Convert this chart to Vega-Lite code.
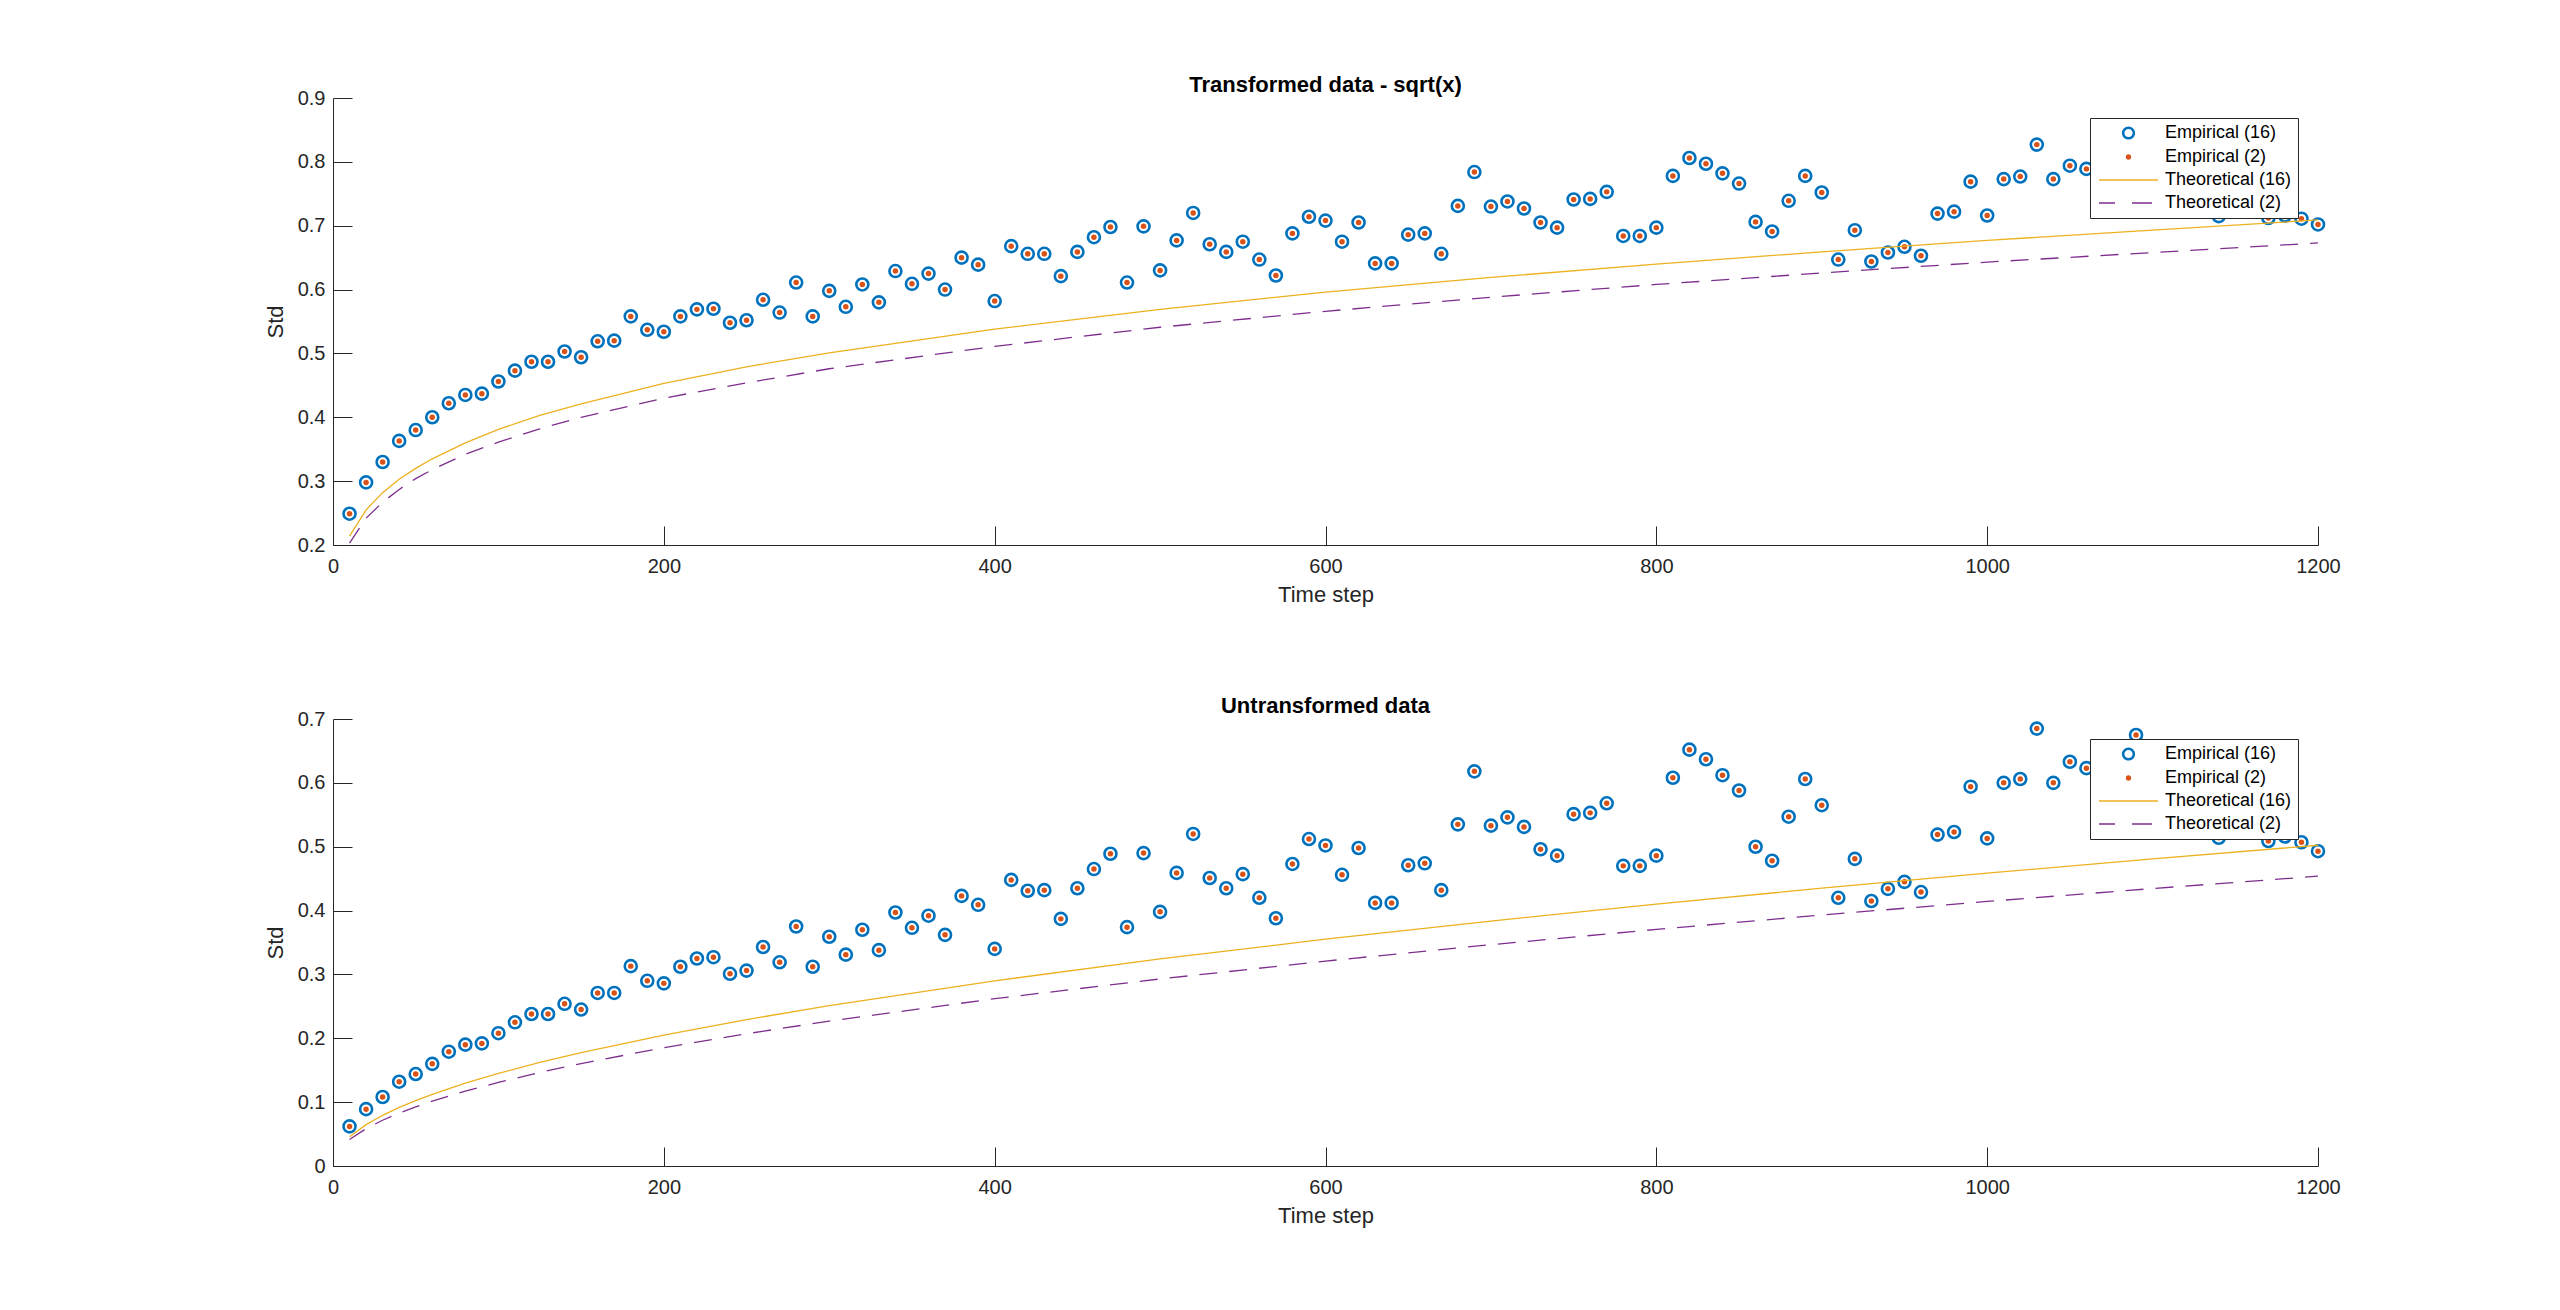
{
  "$schema": "https://vega.github.io/schema/vega-lite/v6.json",
  "background": "white",
  "padding": {"left": 264, "top": 74, "right": 10, "bottom": 10},
  "bounds": "flush",
  "spacing": 174,
  "config": {
    "view": {"stroke": null},
    "font": "Liberation Sans",
    "axis": {
      "grid": false,
      "domainColor": "#262626",
      "domainWidth": 1,
      "tickColor": "#262626",
      "tickWidth": 1,
      "tickSize": -19,
      "labelColor": "#262626",
      "labelFont": "Liberation Sans",
      "labelFontSize": 20,
      "labelFlush": false,
      "labelOverlap": false,
      "titleColor": "#262626",
      "titleFont": "Liberation Sans",
      "titleFontSize": 22,
      "titleFontWeight": "normal"
    },
    "axisX": {"labelPadding": 30, "titlePadding": 8},
    "axisY": {"labelPadding": 27, "titlePadding": 10},
    "title": {"font": "Liberation Sans", "fontSize": 22, "fontWeight": "bold", "color": "#000000", "offset": -9},
    "legend": {
      "orient": "top-right",
      "offset": 20,
      "padding": 6,
      "rowPadding": 5,
      "symbolSize": 4,
      "symbolStrokeWidth": 1.3,
      "symbolOpacity": 1,
      "labelFont": "Liberation Sans",
      "labelFontSize": 18,
      "labelColor": "#000000",
      "labelOffset": 51,
      "labelLimit": 400,
      "strokeColor": "#262626",
      "strokeWidth": 1,
      "fillColor": "#ffffff",
      "cornerRadius": 0
    }
  },
  "datasets": {
    "legendKeys": [
      {"series": "Empirical (16)"},
      {"series": "Empirical (2)"},
      {"series": "Theoretical (16)"},
      {"series": "Theoretical (2)"}
    ],
    "sqrtEmp": [
      {"t":10,"e16":0.249,"e2":0.249},{"t":20,"e16":0.298,"e2":0.298},{"t":30,"e16":0.330,"e2":0.330},{"t":40,"e16":0.363,"e2":0.363},
      {"t":50,"e16":0.380,"e2":0.380},{"t":60,"e16":0.400,"e2":0.400},{"t":70,"e16":0.422,"e2":0.422},{"t":80,"e16":0.435,"e2":0.435},
      {"t":90,"e16":0.437,"e2":0.437},{"t":100,"e16":0.456,"e2":0.456},{"t":110,"e16":0.473,"e2":0.473},{"t":120,"e16":0.487,"e2":0.487},
      {"t":130,"e16":0.487,"e2":0.487},{"t":140,"e16":0.503,"e2":0.503},{"t":150,"e16":0.494,"e2":0.494},{"t":160,"e16":0.519,"e2":0.519},
      {"t":170,"e16":0.520,"e2":0.520},{"t":180,"e16":0.558,"e2":0.558},{"t":190,"e16":0.537,"e2":0.537},{"t":200,"e16":0.534,"e2":0.534},
      {"t":210,"e16":0.558,"e2":0.558},{"t":220,"e16":0.569,"e2":0.569},{"t":230,"e16":0.570,"e2":0.570},{"t":240,"e16":0.548,"e2":0.548},
      {"t":250,"e16":0.552,"e2":0.552},{"t":260,"e16":0.584,"e2":0.584},{"t":270,"e16":0.564,"e2":0.564},{"t":280,"e16":0.611,"e2":0.611},
      {"t":290,"e16":0.558,"e2":0.558},{"t":300,"e16":0.598,"e2":0.598},{"t":310,"e16":0.573,"e2":0.573},{"t":320,"e16":0.608,"e2":0.608},
      {"t":330,"e16":0.580,"e2":0.580},{"t":340,"e16":0.629,"e2":0.629},{"t":350,"e16":0.609,"e2":0.609},{"t":360,"e16":0.625,"e2":0.625},
      {"t":370,"e16":0.600,"e2":0.600},{"t":380,"e16":0.650,"e2":0.650},{"t":390,"e16":0.639,"e2":0.639},{"t":400,"e16":0.582,"e2":0.582},
      {"t":410,"e16":0.668,"e2":0.668},{"t":420,"e16":0.656,"e2":0.656},{"t":430,"e16":0.656,"e2":0.656},{"t":440,"e16":0.621,"e2":0.621},
      {"t":450,"e16":0.659,"e2":0.659},{"t":460,"e16":0.682,"e2":0.682},{"t":470,"e16":0.698,"e2":0.698},{"t":480,"e16":0.611,"e2":0.611},
      {"t":490,"e16":0.699,"e2":0.699},{"t":500,"e16":0.630,"e2":0.630},{"t":510,"e16":0.677,"e2":0.677},{"t":520,"e16":0.720,"e2":0.720},
      {"t":530,"e16":0.671,"e2":0.671},{"t":540,"e16":0.659,"e2":0.659},{"t":550,"e16":0.675,"e2":0.675},{"t":560,"e16":0.647,"e2":0.647},
      {"t":570,"e16":0.622,"e2":0.622},{"t":580,"e16":0.688,"e2":0.688},{"t":590,"e16":0.714,"e2":0.714},{"t":600,"e16":0.708,"e2":0.708},
      {"t":610,"e16":0.675,"e2":0.675},{"t":620,"e16":0.705,"e2":0.705},{"t":630,"e16":0.641,"e2":0.641},{"t":640,"e16":0.641,"e2":0.641},
      {"t":650,"e16":0.686,"e2":0.686},{"t":660,"e16":0.688,"e2":0.688},{"t":670,"e16":0.656,"e2":0.656},{"t":680,"e16":0.731,"e2":0.731},
      {"t":690,"e16":0.784,"e2":0.784},{"t":700,"e16":0.730,"e2":0.730},{"t":710,"e16":0.738,"e2":0.738},{"t":720,"e16":0.727,"e2":0.727},
      {"t":730,"e16":0.705,"e2":0.705},{"t":740,"e16":0.697,"e2":0.697},{"t":750,"e16":0.741,"e2":0.741},{"t":760,"e16":0.742,"e2":0.742},
      {"t":770,"e16":0.753,"e2":0.753},{"t":780,"e16":0.684,"e2":0.684},{"t":790,"e16":0.684,"e2":0.684},{"t":800,"e16":0.697,"e2":0.697},
      {"t":810,"e16":0.778,"e2":0.778},{"t":820,"e16":0.806,"e2":0.806},{"t":830,"e16":0.797,"e2":0.797},{"t":840,"e16":0.782,"e2":0.782},
      {"t":850,"e16":0.766,"e2":0.766},{"t":860,"e16":0.706,"e2":0.706},{"t":870,"e16":0.691,"e2":0.691},{"t":880,"e16":0.739,"e2":0.739},
      {"t":890,"e16":0.778,"e2":0.778},{"t":900,"e16":0.752,"e2":0.752},{"t":910,"e16":0.647,"e2":0.647},{"t":920,"e16":0.693,"e2":0.693},
      {"t":930,"e16":0.644,"e2":0.644},{"t":940,"e16":0.658,"e2":0.658},{"t":950,"e16":0.667,"e2":0.667},{"t":960,"e16":0.653,"e2":0.653},
      {"t":970,"e16":0.719,"e2":0.719},{"t":980,"e16":0.722,"e2":0.722},{"t":990,"e16":0.769,"e2":0.769},{"t":1000,"e16":0.716,"e2":0.716},
      {"t":1010,"e16":0.773,"e2":0.773},{"t":1020,"e16":0.777,"e2":0.777},{"t":1030,"e16":0.827,"e2":0.827},{"t":1040,"e16":0.773,"e2":0.773},
      {"t":1050,"e16":0.794,"e2":0.794},{"t":1060,"e16":0.789,"e2":0.789},{"t":1070,"e16":0.780,"e2":0.780},{"t":1080,"e16":0.760,"e2":0.760},
      {"t":1090,"e16":0.820,"e2":0.820},{"t":1100,"e16":0.790,"e2":0.790},{"t":1110,"e16":0.770,"e2":0.770},{"t":1120,"e16":0.750,"e2":0.750},
      {"t":1130,"e16":0.780,"e2":0.780},{"t":1140,"e16":0.715,"e2":0.715},{"t":1150,"e16":0.770,"e2":0.770},{"t":1160,"e16":0.760,"e2":0.760},
      {"t":1170,"e16":0.712,"e2":0.712},{"t":1180,"e16":0.716,"e2":0.716},{"t":1190,"e16":0.711,"e2":0.711},{"t":1200,"e16":0.702,"e2":0.702}
    ],
    "rawEmp": [
      {"t":10,"e16":0.062,"e2":0.062},{"t":20,"e16":0.089,"e2":0.089},{"t":30,"e16":0.108,"e2":0.108},{"t":40,"e16":0.132,"e2":0.132},
      {"t":50,"e16":0.144,"e2":0.144},{"t":60,"e16":0.160,"e2":0.160},{"t":70,"e16":0.179,"e2":0.179},{"t":80,"e16":0.190,"e2":0.190},
      {"t":90,"e16":0.192,"e2":0.192},{"t":100,"e16":0.208,"e2":0.208},{"t":110,"e16":0.225,"e2":0.225},{"t":120,"e16":0.238,"e2":0.238},
      {"t":130,"e16":0.238,"e2":0.238},{"t":140,"e16":0.254,"e2":0.254},{"t":150,"e16":0.245,"e2":0.245},{"t":160,"e16":0.271,"e2":0.271},
      {"t":170,"e16":0.271,"e2":0.271},{"t":180,"e16":0.313,"e2":0.313},{"t":190,"e16":0.290,"e2":0.290},{"t":200,"e16":0.286,"e2":0.286},
      {"t":210,"e16":0.312,"e2":0.312},{"t":220,"e16":0.325,"e2":0.325},{"t":230,"e16":0.327,"e2":0.327},{"t":240,"e16":0.301,"e2":0.301},
      {"t":250,"e16":0.306,"e2":0.306},{"t":260,"e16":0.343,"e2":0.343},{"t":270,"e16":0.319,"e2":0.319},{"t":280,"e16":0.375,"e2":0.375},
      {"t":290,"e16":0.312,"e2":0.312},{"t":300,"e16":0.359,"e2":0.359},{"t":310,"e16":0.331,"e2":0.331},{"t":320,"e16":0.370,"e2":0.370},
      {"t":330,"e16":0.338,"e2":0.338},{"t":340,"e16":0.397,"e2":0.397},{"t":350,"e16":0.373,"e2":0.373},{"t":360,"e16":0.392,"e2":0.392},
      {"t":370,"e16":0.362,"e2":0.362},{"t":380,"e16":0.423,"e2":0.423},{"t":390,"e16":0.409,"e2":0.409},{"t":400,"e16":0.340,"e2":0.340},
      {"t":410,"e16":0.448,"e2":0.448},{"t":420,"e16":0.431,"e2":0.431},{"t":430,"e16":0.432,"e2":0.432},{"t":440,"e16":0.387,"e2":0.387},
      {"t":450,"e16":0.435,"e2":0.435},{"t":460,"e16":0.465,"e2":0.465},{"t":470,"e16":0.489,"e2":0.489},{"t":480,"e16":0.374,"e2":0.374},
      {"t":490,"e16":0.490,"e2":0.490},{"t":500,"e16":0.398,"e2":0.398},{"t":510,"e16":0.459,"e2":0.459},{"t":520,"e16":0.520,"e2":0.520},
      {"t":530,"e16":0.451,"e2":0.451},{"t":540,"e16":0.435,"e2":0.435},{"t":550,"e16":0.457,"e2":0.457},{"t":560,"e16":0.420,"e2":0.420},
      {"t":570,"e16":0.388,"e2":0.388},{"t":580,"e16":0.473,"e2":0.473},{"t":590,"e16":0.512,"e2":0.512},{"t":600,"e16":0.502,"e2":0.502},
      {"t":610,"e16":0.456,"e2":0.456},{"t":620,"e16":0.498,"e2":0.498},{"t":630,"e16":0.412,"e2":0.412},{"t":640,"e16":0.412,"e2":0.412},
      {"t":650,"e16":0.471,"e2":0.471},{"t":660,"e16":0.474,"e2":0.474},{"t":670,"e16":0.432,"e2":0.432},{"t":680,"e16":0.535,"e2":0.535},
      {"t":690,"e16":0.618,"e2":0.618},{"t":700,"e16":0.533,"e2":0.533},{"t":710,"e16":0.546,"e2":0.546},{"t":720,"e16":0.531,"e2":0.531},
      {"t":730,"e16":0.496,"e2":0.496},{"t":740,"e16":0.486,"e2":0.486},{"t":750,"e16":0.551,"e2":0.551},{"t":760,"e16":0.553,"e2":0.553},
      {"t":770,"e16":0.568,"e2":0.568},{"t":780,"e16":0.470,"e2":0.470},{"t":790,"e16":0.470,"e2":0.470},{"t":800,"e16":0.486,"e2":0.486},
      {"t":810,"e16":0.608,"e2":0.608},{"t":820,"e16":0.652,"e2":0.652},{"t":830,"e16":0.637,"e2":0.637},{"t":840,"e16":0.612,"e2":0.612},
      {"t":850,"e16":0.588,"e2":0.588},{"t":860,"e16":0.500,"e2":0.500},{"t":870,"e16":0.478,"e2":0.478},{"t":880,"e16":0.547,"e2":0.547},
      {"t":890,"e16":0.606,"e2":0.606},{"t":900,"e16":0.565,"e2":0.565},{"t":910,"e16":0.420,"e2":0.420},{"t":920,"e16":0.481,"e2":0.481},
      {"t":930,"e16":0.415,"e2":0.415},{"t":940,"e16":0.434,"e2":0.434},{"t":950,"e16":0.445,"e2":0.445},{"t":960,"e16":0.429,"e2":0.429},
      {"t":970,"e16":0.519,"e2":0.519},{"t":980,"e16":0.523,"e2":0.523},{"t":990,"e16":0.594,"e2":0.594},{"t":1000,"e16":0.513,"e2":0.513},
      {"t":1010,"e16":0.600,"e2":0.600},{"t":1020,"e16":0.606,"e2":0.606},{"t":1030,"e16":0.685,"e2":0.685},{"t":1040,"e16":0.600,"e2":0.600},
      {"t":1050,"e16":0.633,"e2":0.633},{"t":1060,"e16":0.623,"e2":0.623},{"t":1070,"e16":0.610,"e2":0.610},{"t":1080,"e16":0.580,"e2":0.580},
      {"t":1090,"e16":0.675,"e2":0.675},{"t":1100,"e16":0.630,"e2":0.630},{"t":1110,"e16":0.600,"e2":0.600},{"t":1120,"e16":0.570,"e2":0.570},
      {"t":1130,"e16":0.610,"e2":0.610},{"t":1140,"e16":0.514,"e2":0.514},{"t":1150,"e16":0.590,"e2":0.590},{"t":1160,"e16":0.570,"e2":0.570},
      {"t":1170,"e16":0.509,"e2":0.509},{"t":1180,"e16":0.516,"e2":0.516},{"t":1190,"e16":0.507,"e2":0.507},{"t":1200,"e16":0.493,"e2":0.493}
    ],
    "sqrtTheory": [
      {"t":10,"s16":0.214,"s2":0.203},{"t":20,"s16":0.255,"s2":0.242},{"t":30,"s16":0.282,"s2":0.267},
      {"t":40,"s16":0.303,"s2":0.287},{"t":50,"s16":0.320,"s2":0.304},{"t":60,"s16":0.335,"s2":0.318},
      {"t":80,"s16":0.360,"s2":0.342},{"t":100,"s16":0.381,"s2":0.361},{"t":125,"s16":0.403,"s2":0.382},
      {"t":150,"s16":0.421,"s2":0.400},{"t":200,"s16":0.453,"s2":0.430},{"t":250,"s16":0.479,"s2":0.454},
      {"t":300,"s16":0.501,"s2":0.476},{"t":400,"s16":0.538,"s2":0.511},{"t":500,"s16":0.569,"s2":0.541},
      {"t":600,"s16":0.596,"s2":0.566},{"t":700,"s16":0.619,"s2":0.588},{"t":800,"s16":0.640,"s2":0.608},
      {"t":900,"s16":0.659,"s2":0.626},{"t":1000,"s16":0.677,"s2":0.643},{"t":1100,"s16":0.693,"s2":0.658},
      {"t":1200,"s16":0.709,"s2":0.673}
    ],
    "rawTheory": [
      {"t":10,"s16":0.0459,"s2":0.0414},{"t":20,"s16":0.0648,"s2":0.0586},{"t":30,"s16":0.0794,"s2":0.0717},
      {"t":40,"s16":0.0917,"s2":0.0829},{"t":50,"s16":0.1025,"s2":0.0926},{"t":60,"s16":0.1123,"s2":0.1015},
      {"t":80,"s16":0.1297,"s2":0.1172},{"t":100,"s16":0.1450,"s2":0.1310},{"t":125,"s16":0.1621,"s2":0.1465},
      {"t":150,"s16":0.1776,"s2":0.1604},{"t":200,"s16":0.2051,"s2":0.1853},{"t":250,"s16":0.2293,"s2":0.2071},
      {"t":300,"s16":0.2511,"s2":0.2269},{"t":400,"s16":0.2900,"s2":0.2620},{"t":500,"s16":0.3242,"s2":0.2929},
      {"t":600,"s16":0.3552,"s2":0.3209},{"t":700,"s16":0.3836,"s2":0.3466},{"t":800,"s16":0.4101,"s2":0.3705},
      {"t":900,"s16":0.4350,"s2":0.3930},{"t":1000,"s16":0.4585,"s2":0.4143},{"t":1100,"s16":0.4809,"s2":0.4345},
      {"t":1200,"s16":0.5023,"s2":0.4538}
    ]
  },
  "vconcat": [
    {
      "title": "Transformed data - sqrt(x)",
      "width": 1985,
      "height": 447,
      "layer": [
        {
          "data": {"name": "sqrtEmp"},
          "mark": {"type": "point", "shape": "circle", "filled": false, "size": 144, "strokeWidth": 2.6, "color": "#0072BD", "opacity": 1},
          "encoding": {
            "x": {"field": "t", "type": "quantitative", "title": "Time step",
                  "scale": {"domain": [0, 1200], "nice": false, "zero": false},
                  "axis": {"values": [0, 200, 400, 600, 800, 1000, 1200], "format": "d"}},
            "y": {"field": "e16", "type": "quantitative", "title": "Std",
                  "scale": {"domain": [0.2, 0.9], "nice": false, "zero": false},
                  "axis": {"values": [0.2, 0.3, 0.4, 0.5, 0.6, 0.7, 0.8, 0.9], "format": ".1~f"}}
          }
        },
        {
          "data": {"name": "sqrtEmp"},
          "mark": {"type": "point", "shape": "circle", "filled": true, "size": 30, "color": "#D95319", "opacity": 1},
          "encoding": {
            "x": {"field": "t", "type": "quantitative", "title": "Time step"},
            "y": {"field": "e2", "type": "quantitative", "title": "Std"}
          }
        },
        {
          "data": {"name": "sqrtTheory"},
          "mark": {"type": "line", "color": "#EDB120", "strokeWidth": 1.3},
          "encoding": {
            "x": {"field": "t", "type": "quantitative", "title": "Time step"},
            "y": {"field": "s16", "type": "quantitative", "title": "Std"}
          }
        },
        {
          "data": {"name": "sqrtTheory"},
          "mark": {"type": "line", "color": "#7E2F8E", "strokeWidth": 1.3, "strokeDash": [18, 12]},
          "encoding": {
            "x": {"field": "t", "type": "quantitative", "title": "Time step"},
            "y": {"field": "s2", "type": "quantitative", "title": "Std"}
          }
        },
        {
          "data": {"name": "legendKeys"},
          "mark": {"type": "point", "filled": true, "size": 4, "opacity": 1},
          "encoding": {
            "x": {"field": "t", "type": "quantitative", "title": "Time step"},
            "y": {"field": "std", "type": "quantitative", "title": "Std"},
            "shape": {"field": "series", "type": "nominal", "legend": {"title": null},
                      "scale": {"domain": ["Empirical (16)", "Empirical (2)", "Theoretical (16)", "Theoretical (2)"],
                                "range": ["M 16.9 0 A 6.6 6.6 0 1 1 30.1 0 A 6.6 6.6 0 1 1 16.9 0 Z M 19.4 0 A 4.1 4.1 0 1 0 27.6 0 A 4.1 4.1 0 1 0 19.4 0 Z",
                                          "M 21.5 0 A 2 2 0 1 1 25.5 0 A 2 2 0 1 1 21.5 0 Z",
                                          "M -6 0 L 53 0",
                                          "M -6 0 L 10 0 M 27 0 L 47 0"]}},
            "stroke": {"field": "series", "type": "nominal", "legend": {"title": null},
                       "scale": {"domain": ["Empirical (16)", "Empirical (2)", "Theoretical (16)", "Theoretical (2)"],
                                 "range": ["transparent", "#D95319", "#EDB120", "#7E2F8E"]}},
            "fill": {"field": "series", "type": "nominal", "legend": {"title": null},
                     "scale": {"domain": ["Empirical (16)", "Empirical (2)", "Theoretical (16)", "Theoretical (2)"],
                               "range": ["#0072BD", "#D95319", "transparent", "transparent"]}}
          }
        }
      ]
    },
    {
      "title": "Untransformed data",
      "width": 1985,
      "height": 447,
      "layer": [
        {
          "data": {"name": "rawEmp"},
          "mark": {"type": "point", "shape": "circle", "filled": false, "size": 144, "strokeWidth": 2.6, "color": "#0072BD", "opacity": 1},
          "encoding": {
            "x": {"field": "t", "type": "quantitative", "title": "Time step",
                  "scale": {"domain": [0, 1200], "nice": false, "zero": false},
                  "axis": {"values": [0, 200, 400, 600, 800, 1000, 1200], "format": "d"}},
            "y": {"field": "e16", "type": "quantitative", "title": "Std",
                  "scale": {"domain": [0, 0.7], "nice": false},
                  "axis": {"values": [0, 0.1, 0.2, 0.3, 0.4, 0.5, 0.6, 0.7], "format": ".1~f"}}
          }
        },
        {
          "data": {"name": "rawEmp"},
          "mark": {"type": "point", "shape": "circle", "filled": true, "size": 30, "color": "#D95319", "opacity": 1},
          "encoding": {
            "x": {"field": "t", "type": "quantitative", "title": "Time step"},
            "y": {"field": "e2", "type": "quantitative", "title": "Std"}
          }
        },
        {
          "data": {"name": "rawTheory"},
          "mark": {"type": "line", "color": "#EDB120", "strokeWidth": 1.3},
          "encoding": {
            "x": {"field": "t", "type": "quantitative", "title": "Time step"},
            "y": {"field": "s16", "type": "quantitative", "title": "Std"}
          }
        },
        {
          "data": {"name": "rawTheory"},
          "mark": {"type": "line", "color": "#7E2F8E", "strokeWidth": 1.3, "strokeDash": [18, 12]},
          "encoding": {
            "x": {"field": "t", "type": "quantitative", "title": "Time step"},
            "y": {"field": "s2", "type": "quantitative", "title": "Std"}
          }
        },
        {
          "data": {"name": "legendKeys"},
          "mark": {"type": "point", "filled": true, "size": 4, "opacity": 1},
          "encoding": {
            "x": {"field": "t", "type": "quantitative", "title": "Time step"},
            "y": {"field": "std", "type": "quantitative", "title": "Std"},
            "shape": {"field": "series", "type": "nominal", "legend": {"title": null},
                      "scale": {"domain": ["Empirical (16)", "Empirical (2)", "Theoretical (16)", "Theoretical (2)"],
                                "range": ["M 16.9 0 A 6.6 6.6 0 1 1 30.1 0 A 6.6 6.6 0 1 1 16.9 0 Z M 19.4 0 A 4.1 4.1 0 1 0 27.6 0 A 4.1 4.1 0 1 0 19.4 0 Z",
                                          "M 21.5 0 A 2 2 0 1 1 25.5 0 A 2 2 0 1 1 21.5 0 Z",
                                          "M -6 0 L 53 0",
                                          "M -6 0 L 10 0 M 27 0 L 47 0"]}},
            "stroke": {"field": "series", "type": "nominal", "legend": {"title": null},
                       "scale": {"domain": ["Empirical (16)", "Empirical (2)", "Theoretical (16)", "Theoretical (2)"],
                                 "range": ["transparent", "#D95319", "#EDB120", "#7E2F8E"]}},
            "fill": {"field": "series", "type": "nominal", "legend": {"title": null},
                     "scale": {"domain": ["Empirical (16)", "Empirical (2)", "Theoretical (16)", "Theoretical (2)"],
                               "range": ["#0072BD", "#D95319", "transparent", "transparent"]}}
          }
        }
      ]
    }
  ],
  "resolve": {
    "scale": {"shape": "independent", "stroke": "independent", "fill": "independent"},
    "legend": {"shape": "independent", "stroke": "independent", "fill": "independent"}
  }
}
